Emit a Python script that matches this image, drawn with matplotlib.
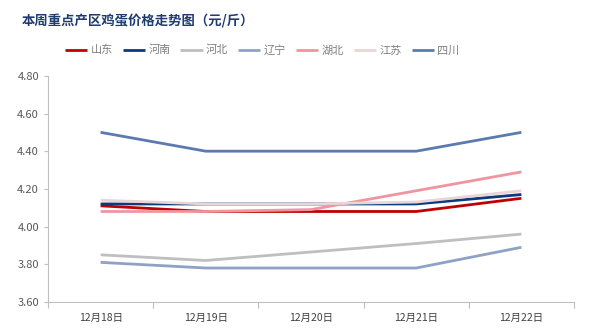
import numpy as np
import matplotlib.pyplot as plt

plt.rcParams['font.family'] = ['Noto Sans CJK SC', 'DejaVu Sans']

# Data
dates = ['12月18日', '12月19日', '12月20日', '12月21日', '12月22日']
shandong = [4.11, 4.08, 4.08, 4.08, 4.15]
henan = [4.12, 4.12, 4.12, 4.12, 4.17]
hebei = [3.85, 3.82, 3.865, 3.91, 3.96]
liaoning = [3.81, 3.78, 3.78, 3.78, 3.89]
hubei = [4.08, 4.08, 4.09, 4.19, 4.29]
jiangsu = [4.14, 4.12, 4.12, 4.13, 4.19]
sichuan = [4.50, 4.40, 4.40, 4.40, 4.50]

series = [
    ('山东', shandong, '#C00000'),
    ('河南', henan, '#0B3A7E'),
    ('河北', hebei, '#BFBFBF'),
    ('辽宁', liaoning, '#8DA2C4'),
    ('湖北', hubei, '#F0959F'),
    ('江苏', jiangsu, '#E9D5D5'),
    ('四川', sichuan, '#5B7BAF'),
]

fig = plt.figure(figsize=(5.89, 3.34), dpi=100)
ax = fig.add_axes([0.0815, 0.096, 0.893, 0.677])

x = np.arange(len(dates))
for name, vals, color in series:
    ax.plot(x, vals, color=color, lw=2.0, label=name, solid_capstyle='butt')

ax.set_xlim(-0.5, len(dates) - 0.5)
ax.set_ylim(3.6, 4.8)
ax.set_yticks(np.arange(3.6, 4.81, 0.2))
ax.set_yticklabels([f'{v:.2f}' for v in np.arange(3.6, 4.81, 0.2)])
ax.set_xticks(x)
ax.set_xticklabels(dates)
ax.set_xticks(np.arange(-0.5, len(dates)), minor=True)
ax.tick_params(axis='x', which='major', length=0, pad=8, labelsize=7.5, colors='#404040')
ax.tick_params(axis='x', which='minor', length=4, color='#BFBFBF', width=0.8)
ax.tick_params(axis='y', length=3, color='#BFBFBF', width=0.8, labelsize=8, labelcolor='#595959')

for s in ['top', 'right']:
    ax.spines[s].set_visible(False)
for s in ['left', 'bottom']:
    ax.spines[s].set_color('#BFBFBF')
    ax.spines[s].set_linewidth(0.8)

fig.text(0.037, 0.935, '本周重点产区鸡蛋价格走势图（元/斤）', fontsize=9.6,
         fontweight='bold', color='#1F3B70', va='center')

fig.legend(loc='center', bbox_to_anchor=(0.445, 0.85), ncol=7, frameon=False,
           fontsize=8, handlelength=2.0, columnspacing=0.9, handletextpad=0.3,
           labelcolor='#7F7F7F')

fig.savefig('out.png', dpi=100)
